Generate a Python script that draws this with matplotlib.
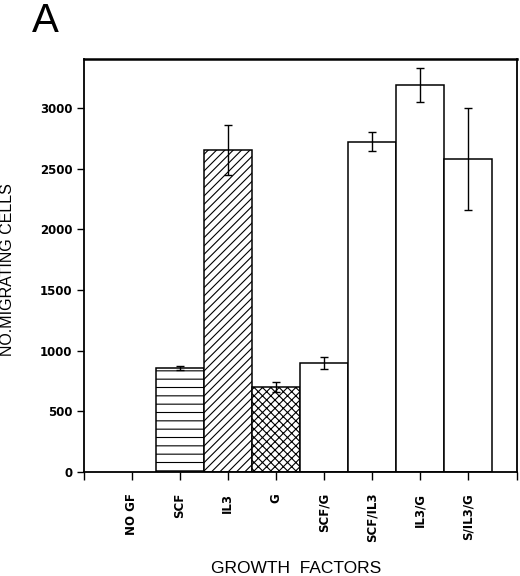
import matplotlib
matplotlib.use('Agg')
import matplotlib.pyplot as plt

# Growth factor groups and migrating cell counts
factors = ['NO GF', 'SCF', 'IL3', 'G', 'SCF/G', 'SCF/IL3', 'IL3/G', 'S/IL3/G']
counts = [0, 858, 2655, 702, 895, 2720, 3188, 2577]
errors = [0, 15, 205, 42, 50, 78, 143, 418]
hatches = ['', '--', '////', 'xxxx', '', '', '', '']

plt.rcParams['hatch.linewidth'] = 0.8


def main():
    fig = plt.figure(figsize=(5.2, 5.76), dpi=100)
    ax = fig.add_axes([0.1606, 0.1806, 0.8327, 0.7164])

    pos = list(range(1, len(factors) + 1))
    for x, h, e, hat in zip(pos, counts, errors, hatches):
        if h <= 0:
            continue
        ax.bar(x, h, width=1.0, facecolor='white', edgecolor='black',
               linewidth=1.1, hatch=hat, zorder=2)
        ax.errorbar(x, h, yerr=e, fmt='none', ecolor='black',
                    elinewidth=1.0, capsize=2.8, capthick=1.0, zorder=3)

    ax.set_xlim(0, len(factors) + 1)
    ax.set_ylim(0, 3400)
    ax.set_xticks(range(0, len(factors) + 2))
    ax.set_xticklabels([''] + factors + [''], rotation=90, fontsize=8.5,
                       fontweight='bold', family='DejaVu Sans')
    ax.set_yticks(range(0, 3001, 500))
    ax.set_yticklabels([str(v) for v in range(0, 3001, 500)], fontsize=8.5,
                       fontweight='bold', family='DejaVu Sans')
    ax.tick_params(axis='x', direction='out', length=6, width=1.0, pad=9)
    ax.tick_params(axis='y', direction='out', length=5, width=1.0, pad=3)

    for side in ['left', 'bottom', 'right', 'top']:
        ax.spines[side].set_linewidth(1.3)
    ax.spines['top'].set_linewidth(1.8)

    ax.set_ylabel('NO.MIGRATING CELLS', fontsize=11.5, family='Liberation Sans')
    ax.yaxis.set_label_coords(-0.158, 0.49)
    ax.set_xlabel('GROWTH  FACTORS', fontsize=12.5, family='Liberation Sans')
    ax.xaxis.set_label_coords(0.49, -0.215)

    fig.text(0.062, 0.945, 'A', fontsize=29, family='Liberation Sans',
             ha='left', va='baseline')

    fig.savefig('out.png', dpi=100)


if __name__ == "__main__": main()
